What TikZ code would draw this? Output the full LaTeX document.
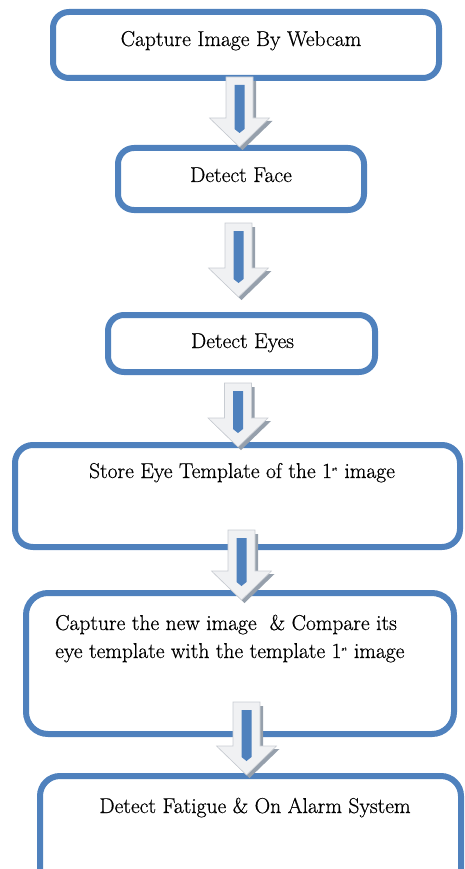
\documentclass[tikz,border=0pt]{standalone}
\usepackage{fontspec}
\usetikzlibrary{calc}
\newfontfamily\stepfont{Latin Modern Roman}[FakeBold=0.6]
\definecolor{boxblue}{RGB}{79,129,189}
\definecolor{arrowbody}{RGB}{240,241,243}
\definecolor{arrowedge}{RGB}{200,204,210}
\definecolor{arrowshade}{RGB}{150,160,172}
\definecolor{barblue}{RGB}{79,129,189}

\tikzset{
  stepbox/.style={draw=boxblue, line width=6pt, rounded corners=16pt, fill=white, inner sep=0pt},
  steptext/.style={anchor=base, inner sep=0pt, font=\stepfont\fontsize{21.5}{28}\selectfont},
}

% block arrow from coordinate #1 (top of shaft) to coordinate #2 (tip)
\newcommand\flowarrow[2]{%
  \fill[arrowshade] let \p1=(#1), \p2=(#2) in
    (\x1-13.5pt+3pt,\y1-4pt) -- (\x1+13.5pt+3pt,\y1-4pt) -- (\x1+13.5pt+3pt,\y2+29pt-3pt)
    -- (\x1+30pt+3pt,\y2+29pt-3pt) -- (\x2+3pt,\y2-3pt) -- (\x1-30pt+3pt,\y2+29pt-3pt)
    -- (\x1-13.5pt+3pt,\y2+29pt-3pt) -- cycle;
  \filldraw[fill=arrowbody, draw=arrowedge, line width=0.6pt] let \p1=(#1), \p2=(#2) in
    (\x1-13.5pt,\y1) -- (\x1+13.5pt,\y1) -- (\x1+13.5pt,\y2+29pt)
    -- (\x1+30pt,\y2+29pt) -- (\x2,\y2) -- (\x1-30pt,\y2+29pt)
    -- (\x1-13.5pt,\y2+29pt) -- cycle;
  \fill[barblue] let \p1=(#1), \p2=(#2) in
    (\x1-5pt,\y1-8pt) -- (\x1+5pt,\y1-8pt) -- (\x1+5pt,\y2+18pt)
    -- (\x2,\y2+14pt) -- (\x1-5pt,\y2+18pt) -- cycle;
}

\begin{document}
\begin{tikzpicture}[x=1pt,y=-1pt]
  \useasboundingbox (0,0) rectangle (465,869);
  \clip (0,0) rectangle (465,869);

  % process boxes
  \node[stepbox, minimum width=386pt, minimum height=66pt] (b1) at (246,45) {};
  \node[stepbox, minimum width=246pt, minimum height=62pt] (b2) at (241,179) {};
  \node[stepbox, minimum width=267pt, minimum height=57pt] (b3) at (241.5,343.5) {};
  \node[stepbox, minimum width=445pt, minimum height=102pt, rounded corners=18pt] (b4) at (237.5,496) {};
  \node[stepbox, minimum width=428pt, minimum height=141pt, rounded corners=22pt] (b5) at (240,663.5) {};
  \node[stepbox, minimum width=421pt, minimum height=124pt, rounded corners=20pt] (b6) at (250.5,838) {};

  % box labels
  \node[steptext] (t1) at (241,46) {Capture Image By Webcam};
  \node[steptext] (t2) at (241,182) {Detect Face};
  \node[steptext] (t3) at (242.5,348) {Detect Eyes};
  \node[steptext] (t4) at (242,478) {Store Eye Template of the 1\textsuperscript{\tiny st} image};
  \node[steptext, anchor=base west] (t5a) at (55,630) {Capture the new image\ \ \& Compare its};
  \node[steptext, anchor=base west] (t5b) at (55,658) {eye template with the template 1\textsuperscript{\tiny st} image};
  \node[steptext] (t6) at (255,813) {Detect Fatigue \& On Alarm System};

  % arrow end points
  \coordinate (a1s) at (239.5,77);  \coordinate (a1e) at (239.5,147);
  \coordinate (a2s) at (238.5,223); \coordinate (a2e) at (238.5,297);
  \coordinate (a3s) at (238,383);   \coordinate (a3e) at (238,447);
  \coordinate (a4s) at (241.5,530); \coordinate (a4e) at (241.5,600);
  \coordinate (a5s) at (246.5,702); \coordinate (a5e) at (246.5,775);

  \flowarrow{a1s}{a1e}
  \flowarrow{a2s}{a2e}
  \flowarrow{a3s}{a3e}
  \flowarrow{a4s}{a4e}
  \flowarrow{a5s}{a5e}
\end{tikzpicture}
\end{document}
